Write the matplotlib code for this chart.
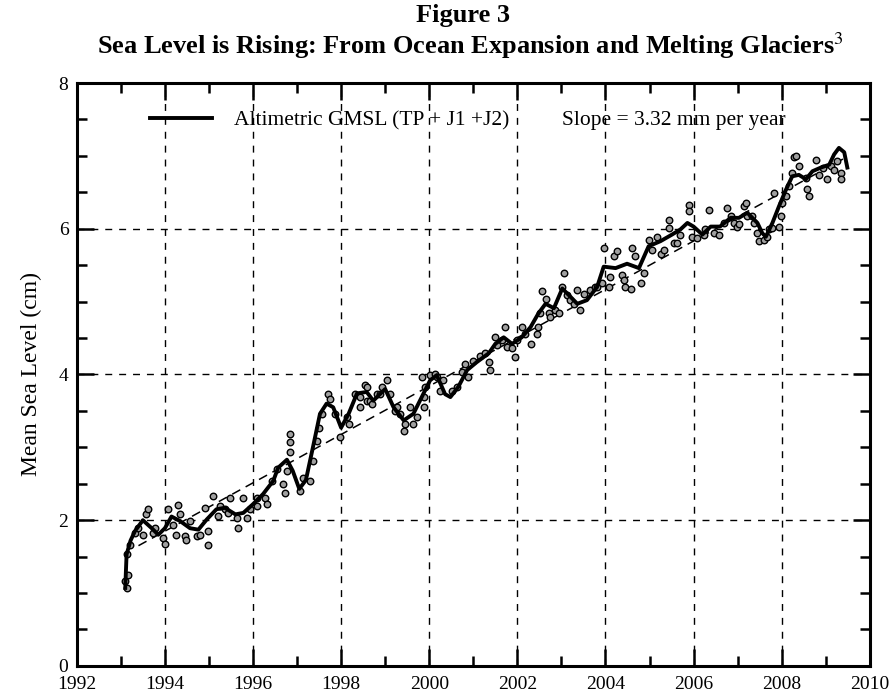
import matplotlib
matplotlib.use("Agg")
import matplotlib.pyplot as plt
from matplotlib.ticker import MultipleLocator
from matplotlib import rcParams

rcParams.update({"font.family": "Liberation Serif", "mathtext.fontset": "stix"})

# smoothed altimetric GMSL (cm)
curve_years = [1993.10, 1993.13, 1993.22, 1993.32, 1993.5, 1993.7, 1993.85, 1994.0, 1994.15,
               1994.34, 1994.57, 1994.76, 1994.95, 1995.17, 1995.36, 1995.6, 1995.78, 1996.0,
               1996.23, 1996.46, 1996.57, 1996.77, 1996.9, 1997.05, 1997.2, 1997.36, 1997.52,
               1997.67, 1997.82, 1998.0, 1998.17, 1998.36, 1998.58, 1998.73, 1999.0, 1999.19,
               1999.42, 1999.64, 1999.83, 2000.02, 2000.17, 2000.36, 2000.48, 2000.66, 2000.86,
               2001.08, 2001.35, 2001.5, 2001.69, 2001.88, 2002.1, 2002.3, 2002.48, 2002.64,
               2002.83, 2003.02, 2003.2, 2003.36, 2003.58, 2003.81, 2003.96, 2004.23, 2004.49,
               2004.76, 2004.98, 2005.25, 2005.51, 2005.7, 2005.86, 2006.0, 2006.2, 2006.39,
               2006.6, 2006.84, 2007.03, 2007.22, 2007.45, 2007.56, 2007.64, 2007.79, 2007.94,
               2008.1, 2008.24, 2008.39, 2008.55, 2008.7, 2008.89, 2009.08, 2009.19, 2009.3,
               2009.42, 2009.49]
curve_vals = [1.07, 1.53, 1.72, 1.85, 2.0, 1.89, 1.80, 1.89, 2.05, 1.99, 1.89, 1.87, 2.01, 2.15,
              2.17, 2.08, 2.10, 2.22, 2.36, 2.54, 2.72, 2.83, 2.68, 2.43, 2.55, 3.0, 3.46, 3.6,
              3.55, 3.27, 3.46, 3.74, 3.76, 3.64, 3.8, 3.55, 3.37, 3.46, 3.69, 3.92, 3.99, 3.73,
              3.69, 3.83, 4.06, 4.17, 4.29, 4.42, 4.51, 4.42, 4.51, 4.65, 4.84, 4.97, 4.91, 5.18,
              5.07, 4.97, 5.02, 5.2, 5.48, 5.46, 5.52, 5.46, 5.76, 5.83, 5.92, 5.99, 6.08, 6.03,
              5.92, 6.03, 6.03, 6.15, 6.15, 6.22, 6.08, 5.94, 5.89, 6.08, 6.31, 6.54, 6.72, 6.74,
              6.68, 6.79, 6.84, 6.88, 7.02, 7.11, 7.05, 6.84]

# individual cycle values (cm)
pt_years = [1993.09, 1993.13, 1993.17, 1993.13, 1993.2, 1993.32, 1993.39, 1993.5, 1993.58,
            1993.62, 1993.73, 1993.77, 1993.96, 1994.0, 1994.08, 1994.19, 1994.26, 1994.3,
            1994.34, 1994.45, 1994.49, 1994.57, 1994.72, 1994.8, 1994.91, 1994.98, 1994.98,
            1995.1, 1995.21, 1995.25, 1995.36, 1995.44, 1995.48, 1995.63, 1995.67, 1995.78,
            1995.86, 1995.93, 1996.08, 1996.08, 1996.27, 1996.31, 1996.42, 1996.54, 1996.69,
            1996.73, 1996.77, 1996.84, 1996.84, 1996.84, 1997.07, 1997.14, 1997.3, 1997.37,
            1997.45, 1997.49, 1997.56, 1997.71, 1997.75, 1997.86, 1997.98, 1998.13, 1998.17,
            1998.32, 1998.43, 1998.43, 1998.55, 1998.58, 1998.58, 1998.66, 1998.7, 1998.81,
            1998.89, 1998.92, 1999.04, 1999.11, 1999.23, 1999.26, 1999.34, 1999.42, 1999.45,
            1999.57, 1999.64, 1999.72, 1999.83, 1999.87, 1999.87, 1999.9, 2000.02, 2000.14,
            2000.17, 2000.25, 2000.32, 2000.51, 2000.63, 2000.74, 2000.82, 2000.89, 2001.0,
            2001.16, 2001.27, 2001.35, 2001.39, 2001.5, 2001.54, 2001.65, 2001.73, 2001.77,
            2001.88, 2001.95, 2001.99, 2002.1, 2002.18, 2002.3, 2002.45, 2002.48, 2002.52,
            2002.56, 2002.64, 2002.71, 2002.75, 2002.86, 2002.94, 2003.02, 2003.05, 2003.13,
            2003.2, 2003.28, 2003.36, 2003.43, 2003.51, 2003.66, 2003.77, 2003.81, 2003.92,
            2003.96, 2004.08, 2004.11, 2004.19, 2004.27, 2004.38, 2004.41, 2004.45, 2004.57,
            2004.6, 2004.68, 2004.8, 2004.87, 2004.98, 2005.06, 2005.17, 2005.25, 2005.33,
            2005.44, 2005.44, 2005.55, 2005.63, 2005.7, 2005.89, 2005.89, 2005.97, 2006.08,
            2006.23, 2006.27, 2006.35, 2006.46, 2006.57, 2006.69, 2006.76, 2006.84, 2006.92,
            2006.99, 2007.03, 2007.14, 2007.18, 2007.22, 2007.33, 2007.37, 2007.45, 2007.48,
            2007.6, 2007.67, 2007.71, 2007.79, 2007.83, 2007.94, 2007.98, 2008.01, 2008.1,
            2008.17, 2008.24, 2008.28, 2008.33, 2008.39, 2008.55, 2008.58, 2008.62, 2008.77,
            2008.85, 2008.93, 2009.04, 2009.11, 2009.19, 2009.26, 2009.34, 2009.34]
pt_vals = [1.16, 1.07, 1.25, 1.53, 1.66, 1.82, 1.89, 1.8, 2.08, 2.15, 1.82, 1.89, 1.76, 1.67,
           2.15, 1.94, 1.8, 2.21, 2.08, 1.78, 1.73, 1.99, 1.78, 1.8, 2.17, 1.66, 1.85, 2.33,
           2.06, 2.19, 2.15, 2.1, 2.31, 2.03, 1.89, 2.31, 2.03, 2.15, 2.19, 2.31, 2.31, 2.22,
           2.54, 2.7, 2.5, 2.38, 2.68, 3.18, 3.08, 2.93, 2.4, 2.58, 2.54, 2.81, 3.09, 3.27,
           3.46, 3.73, 3.66, 3.46, 3.14, 3.41, 3.32, 3.73, 3.55, 3.69, 3.85, 3.64, 3.83, 3.64,
           3.59, 3.73, 3.73, 3.83, 3.92, 3.73, 3.5, 3.55, 3.46, 3.23, 3.32, 3.55, 3.32, 3.41,
           3.97, 3.55, 3.69, 3.83, 3.99, 4.01, 3.97, 3.78, 3.92, 3.78, 3.83, 4.03, 4.15, 3.97,
           4.19, 4.26, 4.29, 4.17, 4.06, 4.51, 4.4, 4.47, 4.65, 4.38, 4.36, 4.24, 4.47, 4.65,
           4.56, 4.42, 4.56, 4.65, 4.84, 5.14, 5.04, 4.84, 4.79, 4.88, 4.84, 5.2, 5.39, 5.09,
           5.02, 4.97, 5.16, 4.88, 5.11, 5.16, 5.2, 5.2, 5.25, 5.73, 5.2, 5.34, 5.62, 5.69,
           5.37, 5.3, 5.2, 5.18, 5.73, 5.62, 5.25, 5.39, 5.85, 5.71, 5.89, 5.66, 5.71, 6.12,
           6.01, 5.8, 5.8, 5.92, 6.33, 6.24, 5.89, 5.87, 5.92, 5.99, 6.26, 5.94, 5.92, 6.08,
           6.29, 6.17, 6.08, 6.03, 6.06, 6.31, 6.36, 6.17, 6.17, 6.08, 5.94, 5.83, 5.85, 5.89,
           5.99, 6.01, 6.49, 6.03, 6.17, 6.36, 6.45, 6.59, 6.77, 6.98, 7.0, 6.86, 6.7, 6.54,
           6.45, 6.95, 6.74, 6.84, 6.68, 6.86, 6.81, 6.93, 6.77, 6.68]

# linear trend, 3.32 mm per year
trend_years = [1993.4, 2009.4]
trend_vals = [1.65, 6.96]

fig = plt.figure(figsize=(8.93, 6.98), dpi=100)
ax = fig.add_axes([0.086, 0.046, 0.888, 0.835])

ax.plot(trend_years, trend_vals, color="k", lw=1.1, ls=(0, (6, 4)), zorder=2)
ax.scatter(pt_years, pt_vals, s=22, facecolor="#a0a0a0", edgecolor="k", linewidth=1.0, zorder=3)
ax.plot(curve_years, curve_vals, color="k", lw=2.8, zorder=4,
        label="Altimetric GMSL (TP + J1 +J2)")

ax.set_xlim(1992, 2010)
ax.set_ylim(0, 8)
ax.xaxis.set_major_locator(MultipleLocator(2))
ax.xaxis.set_minor_locator(MultipleLocator(1))
ax.yaxis.set_major_locator(MultipleLocator(2))
ax.yaxis.set_minor_locator(MultipleLocator(0.5))
ax.tick_params(which="both", direction="in", top=True, right=True, labelsize=14, width=1.8)
ax.tick_params(which="major", length=12)
ax.tick_params(which="minor", length=7)
ax.tick_params(axis="x", which="major", pad=7)
ax.tick_params(axis="y", which="major", pad=6)
for s in ax.spines.values():
    s.set_linewidth(2.2)
ax.grid(True, which="major", color="k", ls=(0, (5, 5)), lw=1)
ax.set_ylabel("Mean Sea Level (cm)", fontsize=17, labelpad=12)

ax.legend(loc="center left", bbox_to_anchor=(0.092, 0.935), frameon=False, fontsize=15.5,
          handlelength=2.9, handletextpad=1.0, borderpad=0, borderaxespad=0)
ax.text(0.612, 0.935, "Slope = 3.32 mm per year", transform=ax.transAxes,
        fontsize=15.5, va="center")

fig.text(0.518, 0.978, "Figure 3", ha="center", va="center", fontsize=19, fontweight="bold")
fig.text(0.527, 0.934, "Sea Level is Rising: From Ocean Expansion and Melting Glaciers$^{3}$",
         ha="center", va="center", fontsize=19, fontweight="bold")

fig.savefig("out.png", dpi=100)
